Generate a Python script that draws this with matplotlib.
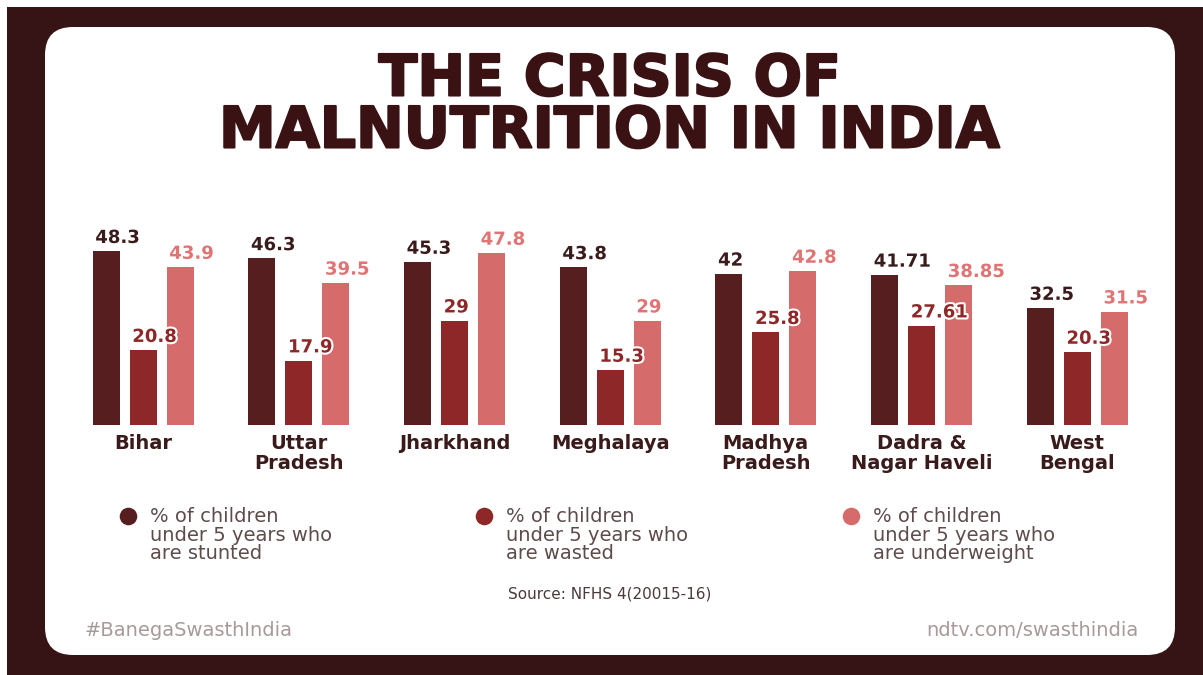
import matplotlib.pyplot as plt
from matplotlib.patches import FancyBboxPatch, Rectangle
import matplotlib.patheffects as pe
import numpy as np

states = ['Bihar', 'Uttar\nPradesh', 'Jharkhand', 'Meghalaya', 'Madhya\nPradesh',
          'Dadra &\nNagar Haveli', 'West\nBengal']
stunted = [48.3, 46.3, 45.3, 43.8, 42, 41.71, 32.5]
wasted = [20.8, 17.9, 29, 15.3, 25.8, 27.61, 20.3]
underweight = [43.9, 39.5, 47.8, 29, 42.8, 38.85, 31.5]
stunted_lbl = ['48.3', '46.3', '45.3', '43.8', '42', '41.71', '32.5']
wasted_lbl = ['20.8', '17.9', '29', '15.3', '25.8', '27.61', '20.3']
under_lbl = ['43.9', '39.5', '47.8', '29', '42.8', '38.85', '31.5']
legend_txt = ['% of children\nunder 5 years who\nare stunted',
              '% of children\nunder 5 years who\nare wasted',
              '% of children\nunder 5 years who\nare underweight']

c_stunt = '#561e1f'
c_waste = '#8e2828'
c_under = '#d66b6b'
c_frame = '#361314'
c_title = '#3a1214'

W, H = 1203, 675
fig = plt.figure(figsize=(W / 100, H / 100), dpi=100)
fig.patch.set_facecolor('white')

# background / frame, in pixel coords
bg = fig.add_axes([0, 0, 1, 1])
bg.set_xlim(0, W)
bg.set_ylim(H, 0)
bg.axis('off')
bg.add_patch(Rectangle((7, 7), W, H, color=c_frame, lw=0))
bg.add_patch(FancyBboxPatch((45 + 28, 27 + 28), 1175 - 45 - 56, 655 - 27 - 56,
                            boxstyle='round,pad=28', fc='white', ec='none'))

title_fx = [pe.withStroke(linewidth=1.5, foreground=c_title)]
bg.text(610, 80, 'THE CRISIS OF', ha='center', va='center', fontsize=41,
        fontweight='heavy', color=c_title, family='DejaVu Sans', path_effects=title_fx)
bg.text(610, 132, 'MALNUTRITION IN INDIA', ha='center', va='center', fontsize=41,
        fontweight='heavy', color=c_title, family='DejaVu Sans', path_effects=title_fx)

# bars
x0, step = 143, 155.7
ppu = 3.6
base = 425
left = x0 - 0.5 * step
right = x0 + 6.5 * step
top = base - 55 * ppu
ax = fig.add_axes([left / W, (H - base) / H, (right - left) / W, (base - top) / H])
ax.set_xlim(-0.5, 6.5)
ax.set_ylim(0, 55)
ax.axis('off')

x = np.arange(len(states))
off = 37 / step
bw = 27 / step
stroke = [pe.withStroke(linewidth=3, foreground='white')]
for series, lbls, col, lcol, k in [(stunted, stunted_lbl, c_stunt, '#3a1a1a', -1),
                                   (wasted, wasted_lbl, c_waste, c_waste, 0),
                                   (underweight, under_lbl, c_under, '#e07474', 1)]:
    xs = x + k * off
    ax.bar(xs, series, width=bw, color=col, lw=0)
    for xi, v, t in zip(xs, series, lbls):
        ax.annotate(t, (xi - bw / 2, v), xytext=(2, 3), textcoords='offset points',
                    ha='left', va='bottom', fontsize=13, fontweight='bold',
                    color=lcol, path_effects=stroke, zorder=5)

for xi, s in zip(x, states):
    bg.text(x0 + xi * step, 434, s, ha='center', va='top', fontsize=14,
            fontweight='bold', color='#3a1a1a', linespacing=1.05)

# legend
for lx, t, col in zip([128, 484, 851], legend_txt, [c_stunt, c_waste, c_under]):
    bg.scatter([lx], [516], s=160, color=col, lw=0)
    bg.text(lx + 22, 507, t, ha='left', va='top', fontsize=14, color='#5e4c4c',
            linespacing=0.98)

bg.text(610, 594, 'Source: NFHS 4(20015-16)', ha='center', va='center',
        fontsize=11, color='#4a3a3a')
bg.text(85, 631, '#BanegaSwasthIndia', ha='left', va='center', fontsize=14,
        color='#a89a9a')
bg.text(1138, 631, 'ndtv.com/swasthindia', ha='right', va='center', fontsize=14,
        color='#a89a9a')

fig.savefig('out.png', dpi=100, facecolor='white')
